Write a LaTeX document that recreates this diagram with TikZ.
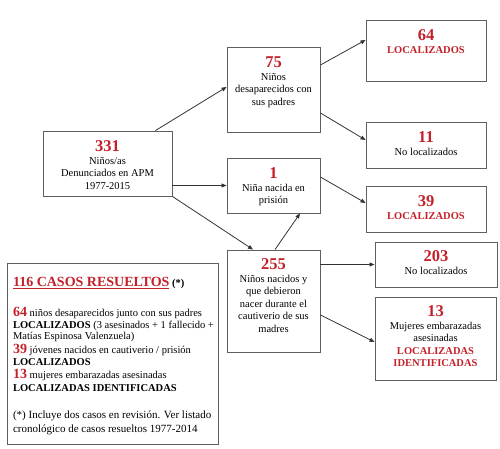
\documentclass[tikz,border=0pt]{standalone}
\usepackage{fontspec}
\setmainfont{Liberation Serif}
\usetikzlibrary{arrows.meta,positioning}
\definecolor{apmred}{RGB}{195,32,42}
\definecolor{boxgray}{RGB}{95,95,95}
\setlength{\lineskiplimit}{-20pt}
\newcommand{\cifra}[1]{{\fontsize{16.5}{12}\selectfont\bfseries\color{apmred}#1}}
\newcommand{\cifrachica}[1]{{\fontsize{14}{12}\selectfont\bfseries\color{apmred}#1}}
\newcommand{\rojo}[1]{{\bfseries\color{apmred}#1}}

\begin{document}
\begin{tikzpicture}[x=1pt, y=-1pt,
	every node/.style={font=\fontsize{10.5}{12.5}\selectfont},
	caja/.style={draw=boxgray, line width=0.9pt, inner sep=0pt},
	texto/.style={align=center, inner sep=0pt, anchor=north},
	flecha/.style={draw=black!80, line width=0.8pt, -{Triangle[length=5pt,width=4pt]}}]
	\useasboundingbox (0,0) rectangle (500,449);
	% cajas
	\node[caja, minimum width=129pt, minimum height=65pt] (c331) at (107.5,163.5) {};
	\node[caja, minimum width=93pt, minimum height=85pt] (c75) at (273.5,89.5) {};
	\node[caja, minimum width=93pt, minimum height=55pt] (c1) at (273.5,185.5) {};
	\node[caja, minimum width=93pt, minimum height=102pt] (c255) at (273.5,301) {};
	\node[caja, minimum width=120pt, minimum height=61pt] (c64) at (426,50.5) {};
	\node[caja, minimum width=120pt, minimum height=46pt] (c11) at (426,145) {};
	\node[caja, minimum width=120pt, minimum height=46pt] (c39) at (426,209) {};
	\node[caja, minimum width=122pt, minimum height=45pt] (c203) at (436,264.5) {};
	\node[caja, minimum width=121pt, minimum height=83pt] (c13) at (435.5,338.5) {};
	\node[caja, minimum width=211pt, minimum height=181pt] (c116) at (112.5,353.5) {};
	% textos
	\node[texto, below=10pt of c331.north] (t331) {\cifra{331}\\Niños/as\\Denunciados en APM\\1977-2015};
	\node[texto, below=10pt of c75.north] (t75) {\cifra{75}\\Niños\\desaparecidos con\\sus padres};
	\node[texto, below=10pt of c1.north] (t1) {\cifra{1}\\Niña nacida en\\prisión};
	\node[texto, below=9pt of c255.north] (t255) {\cifra{255}\\Niños nacidos y\\que debieron\\nacer durante el\\cautiverio de sus\\madres};
	\node[texto, below=10pt of c64.north] (t64) {\cifra{64}\\\rojo{LOCALIZADOS}};
	\node[texto, below=10pt of c11.north] (t11) {\cifra{11}\\No localizados};
	\node[texto, below=10pt of c39.north] (t39) {\cifra{39}\\\rojo{LOCALIZADOS}};
	\node[texto, below=9pt of c203.north] (t203) {\cifra{203}\\No localizados};
	\node[texto, below=9pt of c13.north] (t13) {\cifra{13}\\Mujeres embarazadas\\asesinadas\\\rojo{LOCALIZADAS}\\\rojo{IDENTIFICADAS}};
	% recuadro de casos resueltos
	\node[anchor=north west, align=left, inner sep=0pt,
		font=\fontsize{10.5}{11.5}\selectfont] (t116)
		at ([xshift=6.3pt, yshift=-14.7pt]c116.north west)
		{{\color{apmred}\cifrachica{\underline{116 CASOS RESUELTOS}}} \textbf{(*)}\\[18pt]
		\cifrachica{64} niños desaparecidos junto con sus padres\\[1.2pt]
		\textbf{LOCALIZADOS} (3 asesinados + 1 fallecido +\\[-1.2pt]
		Matías Espinosa Valenzuela)\\[2.8pt]
		\cifrachica{39} jóvenes nacidos en cautiverio / prisión\\
		\textbf{LOCALIZADOS}\\[1.8pt]
		\cifrachica{13} mujeres embarazadas asesinadas\\[1.2pt]
		\textbf{LOCALIZADAS IDENTIFICADAS}\\[15.5pt]
		{\fontsize{11}{14}\selectfont (*) Incluye dos casos en revisión. Ver listado}\\[2.5pt]
		{\fontsize{11}{14}\selectfont cronológico de casos resueltos 1977-2014}};
	% flechas
	\draw[flecha] ([xshift=-17pt]c331.north east) -- ([yshift=2.5pt]c75.west);
	\draw[flecha] (c331.east |- c1.west) -- (c1.west);
	\draw[flecha] (c331.south east) -- ([xshift=-20.5pt]c255.north);
	\draw[flecha] ([xshift=1.5pt]c255.north) -- ([xshift=26.5pt]c1.south);
	\draw[flecha] ([yshift=24.5pt]c75.east) -- ([yshift=10.5pt]c64.west);
	\draw[flecha] ([yshift=-23.5pt]c75.east) -- ([yshift=5pt]c11.west);
	\draw[flecha] ([yshift=8.5pt]c1.east) -- ([yshift=6pt]c39.west);
	\draw[flecha] (c255.east |- c203.west) -- (c203.west);
	\draw[flecha] ([yshift=-14pt]c255.east) -- ([yshift=-3.5pt]c13.west);
\end{tikzpicture}
\end{document}
